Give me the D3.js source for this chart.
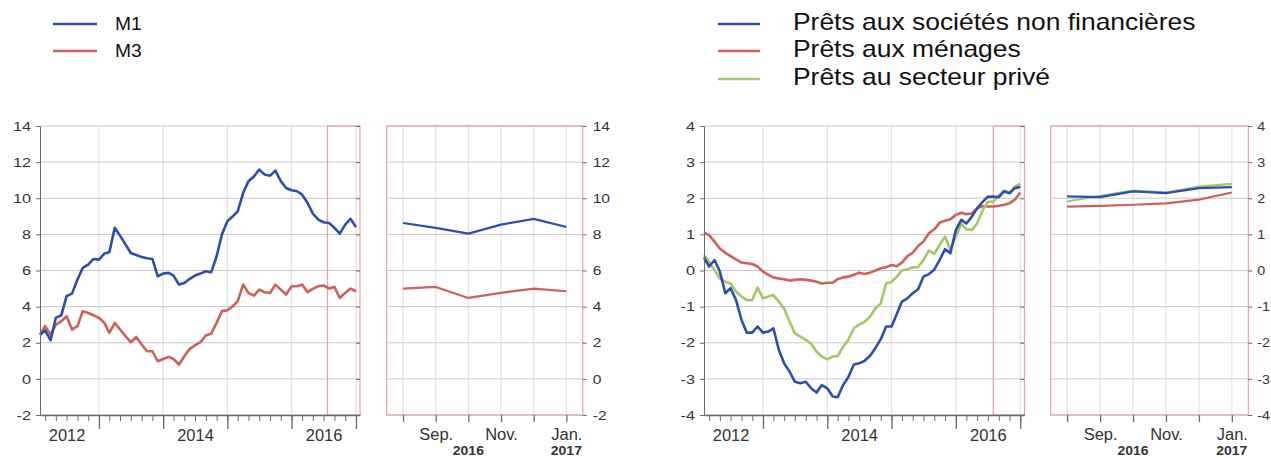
<!DOCTYPE html>
<html><head><meta charset="utf-8">
<script src="https://cdn.jsdelivr.net/npm/d3@7/dist/d3.min.js"></script>
<style>
body{margin:0;background:#fff}
svg{display:block}
text{font-family:"Liberation Sans",Arial,Helvetica,sans-serif}
</style></head>
<body><svg id="chart" width="1271" height="458"></svg>
<script>
// ---------- DATA ----------
const firstMonth = "2012-02";           // monthly observations Feb 2012 .. Jan 2017
const lastMonth  = "2017-01";
const m1 = [2.45,2.68,2.14,3.38,3.52,4.58,4.72,5.5,6.14,6.33,
            6.64,6.6,6.94,7.01,8.36,7.93,7.44,6.97,6.86,6.75,
            6.68,6.64,5.68,5.83,5.87,5.72,5.22,5.31,5.54,5.72,
            5.83,5.96,5.9,6.79,7.99,8.73,9.0,9.28,10.3,10.94,
            11.2,11.59,11.31,11.25,11.53,10.94,10.57,10.44,10.39,10.2,
            9.74,9.15,8.82,8.67,8.63,8.36,8.04,8.54,8.86,8.41];
const m3 = [2.45,2.92,2.45,3.0,3.19,3.47,2.73,2.92,3.75,3.65,
            3.52,3.38,3.1,2.55,3.1,2.73,2.36,2.03,2.32,1.9,
            1.53,1.53,0.98,1.1,1.22,1.1,0.79,1.25,1.66,1.85,
            2.03,2.4,2.51,3.1,3.75,3.8,4.02,4.3,5.22,4.76,
            4.61,4.94,4.8,4.76,5.22,4.94,4.67,5.13,5.13,5.22,
            4.8,4.98,5.13,5.17,5.0,5.09,4.48,4.76,5.0,4.85];
const pretsSNF = [0.36,0.11,0.29,-0.03,-0.63,-0.49,-0.82,-1.37,-1.72,-1.72,
            -1.55,-1.72,-1.69,-1.6,-2.2,-2.57,-2.8,-3.08,-3.12,-3.08,
            -3.26,-3.38,-3.17,-3.26,-3.49,-3.51,-3.17,-2.95,-2.6,-2.57,
            -2.5,-2.36,-2.15,-1.9,-1.55,-1.55,-1.19,-0.86,-0.77,-0.63,
            -0.52,-0.17,-0.1,0.03,0.29,0.59,0.48,1.12,1.4,1.3,
            1.49,1.72,1.9,2.04,2.05,2.03,2.19,2.14,2.28,2.31];
const pretsMenages = [1.05,0.98,0.8,0.61,0.49,0.4,0.31,0.22,0.2,0.18,
            0.11,-0.03,-0.12,-0.19,-0.22,-0.24,-0.28,-0.26,-0.24,-0.26,
            -0.28,-0.31,-0.36,-0.34,-0.34,-0.24,-0.19,-0.17,-0.12,-0.06,
            -0.1,-0.06,0,0.06,0.09,0.15,0.12,0.22,0.4,0.49,
            0.68,0.8,1.03,1.14,1.32,1.38,1.42,1.54,1.6,1.56,
            1.58,1.72,1.78,1.77,1.77,1.79,1.82,1.86,1.96,2.16];
const pretsPrive = [0.43,0.24,0.01,-0.22,-0.31,-0.36,-0.59,-0.72,-0.82,-0.82,
            -0.47,-0.77,-0.72,-0.68,-0.86,-1.05,-1.42,-1.74,-1.83,-1.92,
            -2.02,-2.25,-2.38,-2.46,-2.38,-2.37,-2.11,-1.92,-1.6,-1.5,
            -1.42,-1.28,-1.05,-0.91,-0.36,-0.31,-0.17,0.01,0.03,0.09,
            0.09,0.29,0.55,0.46,0.71,0.94,0.57,0.94,1.3,1.14,
            1.12,1.3,1.67,1.9,1.91,2.07,2.21,2.16,2.32,2.4];
const innerMonths = ["Aug.","Sep.","Oct.","Nov.","Dec.","Jan."];
const innerTickLabels = ["","Sep.","","Nov.","","Jan."];
const innerYearLabels = ["","","2016","","","2017"];
const yearLabels = ["2012","2014","2016"];
const leftYTicks = [-2,0,2,4,6,8,10,12,14];
const rightYTicks = [-4,-3,-2,-1,0,1,2,3,4];
const legendLeft = ["M1","M3"];
const legendRight = ["Prêts aux sociétés non financières","Prêts aux ménages","Prêts au secteur privé"];

// ---------- STYLE ----------
const BLUE="#2c4fae", RED="#cf5f5b", GREEN="#a2c866", BOX="#e6a3a3";
const HGRID="#c8c8c8", VGRID="#e1e1e1", AXIS="#6a6a6a", TXT="#333";
const TOP=126, BOTTOM=415;
const fmtY = d => String(d);   // plain hyphen-minus like the reference

const parseM = d3.timeParse("%Y-%m");
const months = d3.timeMonth.range(parseM(firstMonth), d3.timeMonth.offset(parseM(lastMonth),1));
const svg = d3.select("#chart");

function stretchText(sel, sx){
  sel.each(function(){
    const t=d3.select(this);
    const x=+t.attr("x")||0;
    t.attr("x", x/sx).attr("transform", `scale(${sx},1)`);
  });
}

function panel(o){
  const g = svg.append("g");
  const x = d3.scaleTime().domain([parseM(firstMonth), o.dEnd]).range([o.x0, o.x1]);
  const y = d3.scaleLinear().domain(o.yDom).range([BOTTOM, TOP]);

  const years = d3.timeYear.range(new Date(2013,0,1), new Date(2017,0,2));
  g.append("g").selectAll("line").data(years).join("line")
    .attr("x1",d=>x(d)).attr("x2",d=>x(d)).attr("y1",TOP).attr("y2",BOTTOM)
    .attr("stroke",VGRID).attr("stroke-width",1.2);
  g.append("g").selectAll("line").data(o.yTicks).join("line")
    .attr("x1",o.x0).attr("x2",o.x1).attr("y1",d=>y(d)).attr("y2",d=>y(d))
    .attr("stroke",HGRID).attr("stroke-width",1);

  g.append("rect").attr("x",x(o.boxStart)).attr("y",TOP)
    .attr("width",o.x1-x(o.boxStart)).attr("height",BOTTOM-TOP)
    .attr("fill","none").attr("stroke",BOX).attr("stroke-width",1.2);

  const line = d3.line().x((d,i)=>x(months[i])).y(d=>y(d));
  o.series.forEach(s=>{
    g.append("path").datum(s.values).attr("d",line).attr("fill","none")
      .attr("stroke",s.color).attr("stroke-width",2.6).attr("stroke-linejoin","round");
  });

  const ya = g.append("g").attr("transform",`translate(${o.x0},0)`)
    .call(d3.axisLeft(y).tickValues(o.yTicks).tickFormat(fmtY).tickSize(4).tickPadding(5).tickSizeOuter(0));
  ya.select(".domain").attr("stroke",AXIS);
  ya.selectAll(".tick line").attr("stroke",AXIS);
  ya.selectAll("text").attr("fill",TXT).style("font-size","13px").call(stretchText,1.25);

  const yr = g.append("g").attr("transform",`translate(${o.x1},0)`)
    .call(d3.axisRight(y).tickValues(o.yTicks).tickSize(-4).tickFormat("").tickSizeOuter(0));
  yr.select(".domain").remove();
  yr.selectAll(".tick line").attr("stroke",AXIS);

  const xm = g.append("g").attr("transform",`translate(0,${BOTTOM})`)
    .call(d3.axisBottom(x).ticks(d3.timeMonth.every(2)).tickSize(6).tickFormat("").tickSizeOuter(0));
  xm.select(".domain").attr("stroke",AXIS).attr("stroke-width",1.3);
  xm.selectAll(".tick line").attr("stroke",AXIS);
  const xM = g.append("g").attr("transform",`translate(0,${BOTTOM})`)
    .call(d3.axisBottom(x).tickValues(years).tickSize(14).tickFormat(""));
  xM.select(".domain").remove();
  xM.selectAll(".tick line").attr("stroke",AXIS).attr("stroke-width",1.3);
  const labelDates = yearLabels.map(s=>new Date(+s,6,1));
  const xl = g.append("g").attr("transform",`translate(0,${BOTTOM})`)
    .call(d3.axisBottom(x).tickValues(labelDates).tickSize(0).tickPadding(15)
      .tickFormat((d,i)=>yearLabels[i]));
  xl.select(".domain").remove();
  xl.selectAll("text").attr("fill",TXT).style("font-size","16px").call(stretchText,1.03);

  // inner panel (last six months)
  const xi = d3.scalePoint().domain(innerMonths).range([o.bx0,o.bx1]).padding(0.5);
  const gi = svg.append("g");
  gi.append("g").selectAll("line").data(innerMonths).join("line")
    .attr("x1",d=>xi(d)).attr("x2",d=>xi(d)).attr("y1",TOP).attr("y2",BOTTOM)
    .attr("stroke",VGRID).attr("stroke-width",1.2);
  gi.append("g").selectAll("line").data(o.yTicks).join("line")
    .attr("x1",o.bx0).attr("x2",o.bx1).attr("y1",d=>y(d)).attr("y2",d=>y(d))
    .attr("stroke",HGRID);
  const n = months.length;
  o.series.forEach(s=>{
    const vals = s.values.slice(n-innerMonths.length);
    gi.append("path").datum(vals)
      .attr("d", d3.line().x((d,i)=>xi(innerMonths[i])).y(d=>y(d)))
      .attr("fill","none").attr("stroke",s.color).attr("stroke-width",2.2).attr("stroke-linejoin","round");
  });
  gi.append("rect").attr("x",o.bx0).attr("y",TOP).attr("width",o.bx1-o.bx0).attr("height",BOTTOM-TOP)
    .attr("fill","none").attr("stroke",BOX).attr("stroke-width",1.2);
  const ir = gi.append("g").attr("transform",`translate(${o.bx1},0)`)
    .call(d3.axisRight(y).tickValues(o.yTicks).tickFormat(fmtY).tickSize(o.rTick).tickPadding(o.rPad).tickSizeOuter(0));
  ir.select(".domain").remove();
  ir.selectAll(".tick line").attr("stroke",AXIS);
  ir.selectAll("text").attr("fill",TXT).style("font-size","13px").call(stretchText,o.rStretch);
  const ib = gi.append("g").attr("transform",`translate(0,${BOTTOM})`)
    .call(d3.axisBottom(xi).tickSize(7).tickPadding(7).tickFormat((d,i)=>innerTickLabels[i]).tickSizeOuter(0));
  ib.select(".domain").remove();
  ib.selectAll(".tick line").attr("stroke",AXIS).attr("stroke-width",1.3);
  ib.selectAll("text").attr("fill",TXT).style("font-size","16px").call(stretchText,1.03);
  gi.append("g").selectAll("text").data(innerMonths).join("text")
    .attr("x",d=>xi(d)).attr("y",455.5).attr("text-anchor","middle")
    .attr("fill",TXT).style("font-size","12.5px").style("font-weight","bold")
    .text((d,i)=>innerYearLabels[i]).call(stretchText,1.12);
}

panel({x0:40, x1:360, dEnd:new Date(2017,0,24), boxStart:new Date(2016,6,23),
  yDom:[-2,14], yTicks:leftYTicks, bx0:386.7, bx1:582.7, rTick:4, rPad:6, rStretch:1.2,
  series:[{values:m3,color:RED},{values:m1,color:BLUE}]});
panel({x0:704, x1:1024.5, dEnd:new Date(2017,0,25), boxStart:new Date(2016,7,1),
  yDom:[-4,4], yTicks:rightYTicks, bx0:1050.7, bx1:1248.3, rTick:4, rPad:5, rStretch:1.1,
  series:[{values:pretsMenages,color:RED},{values:pretsPrive,color:GREEN},{values:pretsSNF,color:BLUE}]});

// ---------- LEGENDS ----------
function legend(items, colors, lx0, lx1, tx, ys, size, sx){
  const g = svg.append("g");
  items.forEach((t,i)=>{
    g.append("line").attr("x1",lx0).attr("x2",lx1).attr("y1",ys[i]).attr("y2",ys[i])
      .attr("stroke",colors[i]).attr("stroke-width",2.6);
    g.append("text").attr("x",tx).attr("y",ys[i]+6).attr("fill","#111")
      .style("font-size",size+"px").text(t).call(stretchText,sx);
  });
}
legend(legendLeft,[BLUE,RED],53,97,115,[24,51],18,1.07);
legend(legendRight,[BLUE,RED,GREEN],718,760,793,[24,51,79],23,1.15);
</script></body></html>
